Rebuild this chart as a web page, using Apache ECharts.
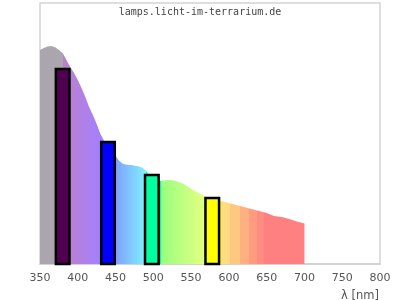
<!DOCTYPE html>
<html>
<head>
<meta charset="utf-8">
<script src="https://cdn.jsdelivr.net/npm/echarts@6/dist/echarts.min.js"></script>
<style>html,body{margin:0;padding:0;background:#fff}#c{width:400px;height:300px}</style>
</head>
<body>
<div id="c"></div>
<script>
// Spectrum curve (relative intensity, 0-100)
var wavelengths = [350,355,360,365,370,375,380,385,390,395,400,405,410,415,420,425,430,435,440,445,450,455,460,465,470,480,485,490,495,500,505,510,520,530,540,550,560,570,580,590,600,610,620,630,640,650,660,670,680,690,700];
var intensity   = [82.0,82.8,83.3,83.5,83.0,82.0,80.8,78.2,75.5,73.2,70.5,67.4,64.0,60.2,57.1,53.6,49.8,47.0,45.0,43.0,41.4,39.5,38.3,38.0,37.9,37.5,37.0,35.8,33.8,33.0,32.3,31.8,32.2,31.8,30.7,28.7,27.2,25.7,24.9,24.1,23.4,22.6,21.8,21.1,20.3,19.5,18.4,18.0,17.2,16.3,15.5];
// LED peaks
var ledCenters = [380, 440, 498, 578];
var ledValues  = [74.7, 46.7, 34.1, 25.3];
// x-axis ticks
var xTicks = [350,400,450,500,550,600,650,700,750,800];
var titleText = 'lamps.licht-im-terrarium.de';
var axisName = 'λ [nm]';

// styles (kept separate from data)
var ledColors = ['#500050', '#0000ff', '#00ffa0', '#ffff00'];
var ledHalfWidth = 9;
var bandStops = [
  [350,'#aba6ad'],[380,'#aba6ad'],[380,'#bd80c6'],[430,'#a480ff'],
  [450,'#9c80ff'],[450,'#80a0ff'],[490,'#80f0ff'],
  [490,'#00ffa0'],[510,'#00ffa0'],[510,'#98ff80'],[570,'#e6ff80'],
  [570,'#ffff00'],[590,'#ffff00'],[590,'#ffdc80'],[602,'#ffdc80'],
  [602,'#ffc880'],[615,'#ffc880'],[615,'#ffb080'],[627,'#ffb080'],
  [627,'#ff9c80'],[637,'#ff9c80'],[637,'#ff8c80'],[646,'#ff8c80'],
  [646,'#ff8080'],[700,'#ff8080']
];

var lo = wavelengths[0], hi = wavelengths[wavelengths.length-1];
var stops = bandStops.map(function(s){ return {offset:(s[0]-lo)/(hi-lo), color:s[1]}; });

var chart = echarts.init(document.getElementById('c'), null, {renderer:'canvas'});
chart.setOption({
  animation: false,
  backgroundColor: '#fff',
  title: {
    text: titleText, left: 'center', top: 2,
    textStyle: {fontFamily:'DejaVu Sans Mono', fontSize:10, fontWeight:'normal', color:'#444'}
  },
  grid: {left:40, right:20, top:3, bottom:36, show:true, borderColor:'#d3d3d3', borderWidth:1.5},
  xAxis: {
    type:'value', min:350, max:800, interval:50,
    axisLine:{show:true, lineStyle:{color:'#d3d3d3', width:2}},
    axisTick:{show:false}, splitLine:{show:false},
    axisLabel:{
      margin:9, color:'#555', fontFamily:'DejaVu Sans', fontSize:11,
      formatter:function(v){ return xTicks.indexOf(v) >= 0 ? String(v) : ''; }
    }
  },
  yAxis: {type:'value', min:0, max:100, show:false, splitLine:{show:false}},
  graphic: [{
    type:'text', left:341, top:290,
    style:{text:axisName, fill:'#555', font:'11.5px "DejaVu Sans"'}
  }],
  series: [
    {
      type:'line',
      data: wavelengths.map(function(w,i){ return [w, intensity[i]]; }),
      showSymbol:false, symbol:'none',
      lineStyle:{width:0},
      areaStyle:{opacity:1, color:new echarts.graphic.LinearGradient(0,0,1,0,stops)},
      z:1
    },
    {
      type:'custom',
      data: ledCenters.map(function(c,i){ return [c, ledValues[i]]; }),
      renderItem:function(params, api){
        var c = api.value(0), v = api.value(1);
        var p0 = api.coord([c - ledHalfWidth, v]);
        var p1 = api.coord([c + ledHalfWidth, 0]);
        return {
          type:'rect',
          shape:{x:p0[0], y:p0[1], width:p1[0]-p0[0], height:p1[1]-p0[1]},
          style:{fill:ledColors[params.dataIndex], stroke:'#000', lineWidth:2.5}
        };
      },
      z:2
    }
  ]
});
</script>
</body>
</html>
